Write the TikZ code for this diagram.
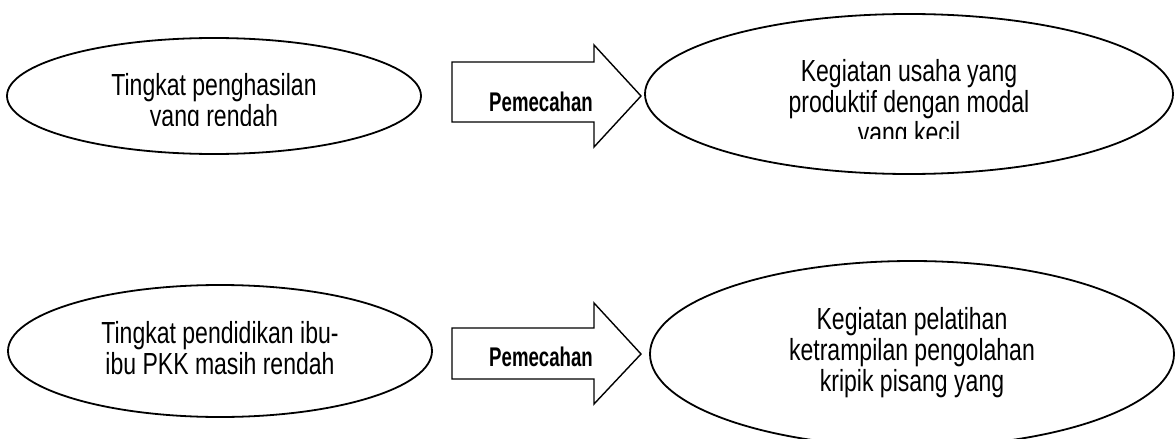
\documentclass[tikz,border=0pt]{standalone}
\usepackage{fontspec}
\setmainfont{Liberation Sans}
\newfontfamily\ovalfont{Liberation Sans}[FakeStretch=0.755]
\newfontfamily\arrowfont{Liberation Sans}[FakeStretch=0.69]
\usetikzlibrary{shapes.geometric}

\begin{document}
\begin{tikzpicture}[x=1pt,y=-1pt,
  oval/.style={ellipse, draw, line width=1.8pt, inner sep=0pt},
  % base anchor of a multi-line node sits on its last line
  ovaltext/.style={align=center, font=\ovalfont\fontsize{30.5}{31}\selectfont, inner sep=0pt, anchor=base},
  bigarrow/.style={draw, line width=1.4pt, fill=white, line join=miter},
  arrowtext/.style={font=\arrowfont\fontsize{27}{29}\selectfont\bfseries, inner sep=0pt, anchor=base}]
\useasboundingbox (0,0) rectangle (1176,439);

% top row: problem -> solution
\node[oval, minimum width=414pt, minimum height=116pt] (e1) at (214,96) {};
\begin{scope}
  \clip (0,0) rectangle (440,125);
  \node[ovaltext] (t1) at (214,126) {Tingkat penghasilan\\yang rendah};
\end{scope}

\draw[bigarrow] (452,62) coordinate (a1s) -- (594,62) -- (594,45) -- (641,96) coordinate (a1t)
  -- (594,147) -- (594,122) -- (452,122) -- cycle;
\node[arrowtext] (p1) at (541,111) {Pemecahan};

\node[oval, minimum width=528pt, minimum height=160pt] (e2) at (909,94) {};
\begin{scope}
  \clip (640,0) rectangle (1176,138);
  \node[ovaltext] (t2) at (909,143) {Kegiatan usaha yang\\produktif dengan modal\\yang kecil};
\end{scope}

% bottom row: problem -> solution
\node[oval, minimum width=424pt, minimum height=132pt] (e3) at (220,351) {};
\node[ovaltext] (t3) at (220,374) {Tingkat pendidikan ibu-\\ibu PKK masih rendah};

\draw[bigarrow] (452,328) coordinate (a2s) -- (594,328) -- (594,303) -- (641,354) coordinate (a2t)
  -- (594,404) -- (594,379) -- (452,379) -- cycle;
\node[arrowtext] (p2) at (541,366) {Pemecahan};

\node[oval, minimum width=524pt, minimum height=186pt] (e4) at (912,354) {};
\node[ovaltext] (t4) at (912,391) {Kegiatan pelatihan\\ketrampilan pengolahan\\kripik pisang yang};
\end{tikzpicture}
\end{document}
